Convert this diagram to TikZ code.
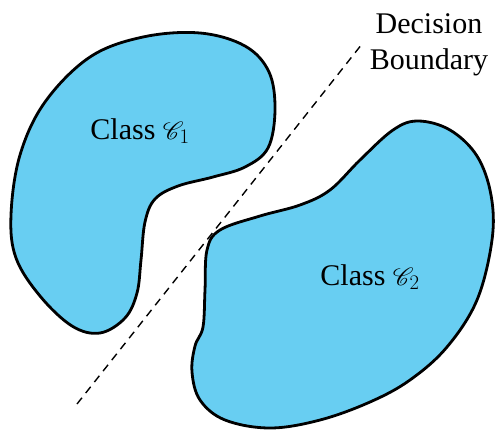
\documentclass[tikz,border=0pt]{standalone}
\usepackage{fontspec}
\setmainfont{Liberation Serif}
\usepackage{mathrsfs}
\usepackage{xcolor}
\usepackage{tikz}
\usetikzlibrary{positioning,calc}
\definecolor{classblue}{RGB}{104,206,242}

\begin{document}
\begin{tikzpicture}[x=1pt,y=-1pt,
 blob/.style={draw=black,line width=2.8pt,fill=classblue,line join=round},
 boundary/.style={dashed,line width=1.4pt,dash pattern=on 8pt off 6pt},
 lbl/.style={font=\fontsize{30}{34}\selectfont,inner sep=0pt}]
 \useasboundingbox (0,0) rectangle (495,429);
 % class 1 region
 \draw[blob] plot[smooth cycle,tension=0.6] coordinates {
 (90,57) (143,37) (200,33) (245,46) (269,72) (275,110)
 (268,148) (245,167) (213,177) (178,186) (155,199) (145,222)
 (141,260) (137,293) (125,318) (100,333) (72,326) (40,296)
 (16,258) (11,215) (20,155) (45,102)};
 % class 2 region
 \draw[blob] plot[smooth cycle,tension=0.6] coordinates {
 (220,230) (260,216) (300,205) (330,190) (360,160) (393,130)
 (418,121) (450,130) (477,156) (491,195) (492,240) (477,300)
 (447,347) (410,380) (370,402) (320,420) (270,428) (225,420)
 (200,400) (192,372) (195,346) (203,327) (205,290) (207,250)};
 % decision boundary
 \coordinate (b1) at (77,404);
 \coordinate (b2) at (362,44);
 \draw[boundary] (b1) -- (b2);
 \node[lbl] (c1) at (140,131) {Class $\mathscr{C}_1$};
 \node[lbl] (c2) at (370,277) {Class $\mathscr{C}_2$};
 \node[lbl,align=center] (db) at (429,45) {Decision\\[2pt]Boundary};
\end{tikzpicture}
\end{document}
